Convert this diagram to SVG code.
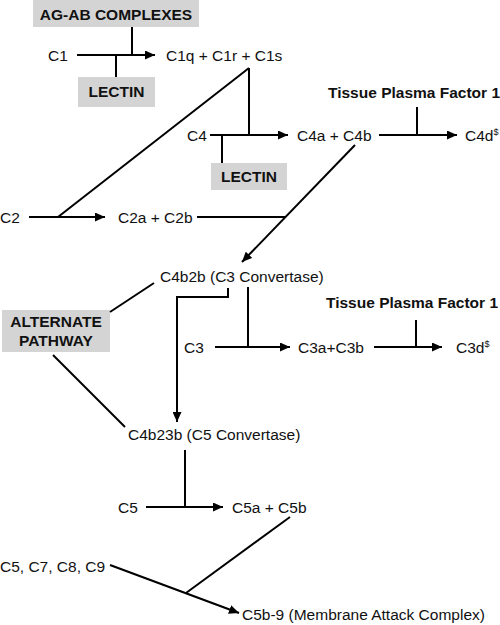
<svg xmlns="http://www.w3.org/2000/svg" width="500" height="625" viewBox="0 0 500 625">
<style>
text{font-family:"Liberation Sans",Arial,sans-serif;font-size:15.5px;fill:#111}
.b{font-weight:bold}
.box{fill:#d4d4d4}
.c line,.c polyline{stroke:#000;stroke-width:2;fill:none}
.a{marker-end:url(#ah)}
.sup{font-size:9px}
</style>
<defs>
<marker id="ah" viewBox="0 0 10 9" refX="10" refY="4.5" markerWidth="10" markerHeight="9" markerUnits="userSpaceOnUse" orient="auto">
<path d="M0,0 L10,4.5 L0,9 z" fill="#000"/>
</marker>
</defs>
<rect width="500" height="625" fill="#fff"/>
<g id="agab"><rect class="box" x="33" y="0" width="166" height="27"/><text class="b" x="116" y="20" text-anchor="middle">AG-AB COMPLEXES</text></g>
<g id="c1"><text x="48" y="61">C1</text></g>
<g id="c1qrs"><text x="166" y="61">C1q + C1r + C1s</text></g>
<g id="lectin1"><rect class="box" x="78" y="77" width="77" height="30"/><text class="b" x="116.5" y="97" text-anchor="middle">LECTIN</text></g>
<g id="tpf1"><text class="b" x="328" y="98">Tissue Plasma Factor 1</text></g>
<g id="c4"><text x="187" y="141">C4</text></g>
<g id="c4ab"><text x="297" y="141">C4a + C4b</text></g>
<g id="c4d"><text x="465" y="141">C4d<tspan class="sup" dy="-6">$</tspan></text></g>
<g id="lectin2"><rect class="box" x="211" y="163" width="76" height="27"/><text class="b" x="249" y="182" text-anchor="middle">LECTIN</text></g>
<g id="c2"><text x="0" y="223">C2</text></g>
<g id="c2ab"><text x="118" y="223">C2a + C2b</text></g>
<g id="c3conv"><text x="160" y="282">C4b2b (C3 Convertase)</text></g>
<g id="alt"><rect class="box" x="2" y="310" width="108" height="42"/><text class="b" x="56" y="327" text-anchor="middle">ALTERNATE</text><text class="b" x="56" y="346" text-anchor="middle">PATHWAY</text></g>
<g id="tpf2"><text class="b" x="326" y="308">Tissue Plasma Factor 1</text></g>
<g id="c3"><text x="184" y="353">C3</text></g>
<g id="c3ab"><text x="298" y="353">C3a+C3b</text></g>
<g id="c3d"><text x="456" y="353">C3d<tspan class="sup" dy="-6">$</tspan></text></g>
<g id="c5conv"><text x="128" y="440">C4b23b (C5 Convertase)</text></g>
<g id="c5"><text x="118" y="513">C5</text></g>
<g id="c5ab"><text x="232" y="513">C5a + C5b</text></g>
<g id="c5789"><text x="0" y="572">C5, C7, C8, C9</text></g>
<g id="mac"><text x="242" y="620">C5b-9 (Membrane Attack Complex)</text></g>
<g id="connectors" class="c">
<line x1="132" y1="27" x2="132" y2="55"/>
<line class="a" x1="77" y1="55" x2="155" y2="55"/>
<line x1="116" y1="55" x2="116" y2="77"/>
<line x1="249" y1="68" x2="249" y2="135"/>
<line x1="249" y1="68" x2="58" y2="217"/>
<line class="a" x1="210" y1="135" x2="288" y2="135"/>
<line x1="222" y1="135" x2="222" y2="163"/>
<line x1="417" y1="107" x2="417" y2="135"/>
<line class="a" x1="379" y1="135" x2="457" y2="135"/>
<line class="a" x1="29" y1="217" x2="105" y2="217"/>
<line x1="197" y1="217" x2="286" y2="217"/>
<line class="a" x1="355" y1="145" x2="242" y2="262"/>
<line x1="110" y1="312" x2="154" y2="283"/>
<line x1="53" y1="355" x2="125" y2="427"/>
<polyline class="a" points="228,288 228,297 177,297 177,422"/>
<line x1="248" y1="287" x2="248" y2="347"/>
<line class="a" x1="215" y1="347" x2="290" y2="347"/>
<line x1="416" y1="320" x2="416" y2="347"/>
<line class="a" x1="374" y1="347" x2="442" y2="347"/>
<line x1="185" y1="450" x2="185" y2="507"/>
<line class="a" x1="146" y1="507" x2="223" y2="507"/>
<line x1="290" y1="517" x2="186" y2="593"/>
<line class="a" x1="110" y1="565" x2="239" y2="613"/>
</g>
</svg>
